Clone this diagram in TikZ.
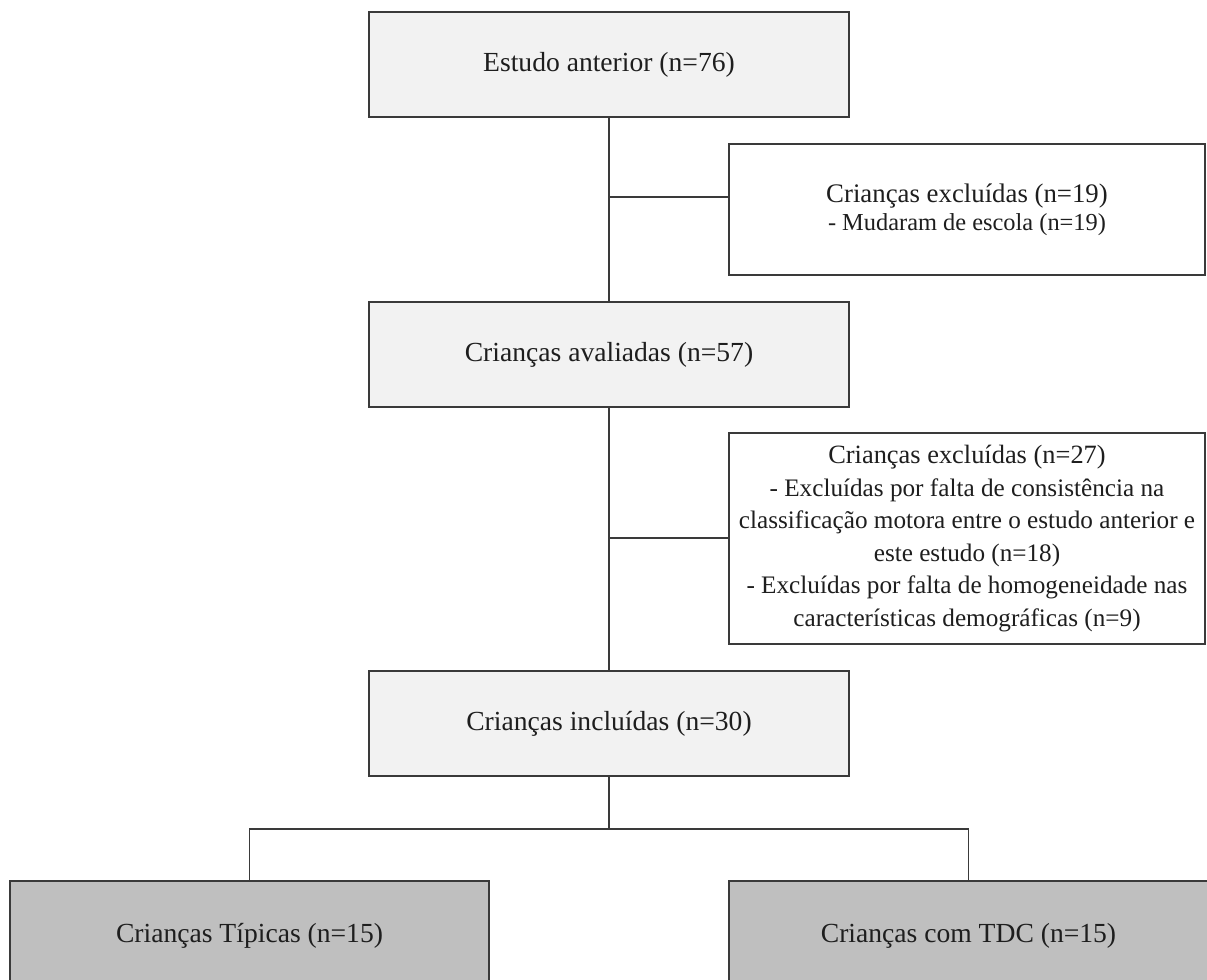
\documentclass[tikz,border=0pt]{standalone}
\usepackage{fontspec}
\setmainfont{Liberation Serif}
\definecolor{boxfill}{HTML}{F2F2F2}
\definecolor{groupfill}{HTML}{BFBFBF}
\definecolor{edge}{HTML}{3A3A3A}
\definecolor{ink}{HTML}{1E1E1E}
\begin{document}
\begin{tikzpicture}[x=0.5pt, y=-0.5pt,
		box/.style={draw=edge, line width=0.75pt, fill=boxfill, text=ink, inner sep=0pt,
			minimum width=240pt, minimum height=52.5pt, font=\fontsize{13.8}{16}\selectfont},
		exclbox/.style={box, fill=white, minimum width=238pt, align=center},
		groupbox/.style={box, fill=groupfill, minimum width=239.5pt, minimum height=54.5pt},
		link/.style={draw=edge, line width=0.6pt}]
	\clip (0,0) rectangle (1207,980);
	\fill[white] (0,0) rectangle (1207,980);
	% Boxes
	\node[box] (prev) at (609,64.5) {Estudo anterior (n=76)};
	\node[exclbox, minimum height=65.5pt, font=\fontsize{12.2}{14}\selectfont] (excl1) at (967,209.5)
		{{\fontsize{13.4}{14}\selectfont Crianças excluídas (n=19)}\\- Mudaram de escola (n=19)};
	\node[box] (aval) at (609,354.5) {Crianças avaliadas (n=57)};
	\node[exclbox, minimum height=105.5pt, font=\fontsize{12.6}{16.3}\selectfont] (excl2) at (967,538.5)
		{{\fontsize{13.2}{16.3}\selectfont Crianças excluídas (n=27)}\\
		- Excluídas por falta de consistência na\\
		classificação motora entre o estudo anterior e\\
		este estudo (n=18)\\
		- Excluídas por falta de homogeneidade nas\\
		características demográficas (n=9)};
	\node[box] (incl) at (609,723.5) {Crianças incluídas (n=30)};
	\node[groupbox] (tipicas) at (249.5,935.5) {Crianças Típicas (n=15)};
	\node[groupbox] (tdc) at (968.5,935.5) {Crianças com TDC (n=15)};
	% Connectors
	\draw[link] (prev.south) -- (aval.north);
	\draw[link] (aval.south) -- (incl.north);
	\foreach \y/\e [count=\i] in {197/excl1, 538/excl2}{
		\coordinate (j\i) at (609,\y);
		\draw[link] (j\i) -- (j\i -| \e.west);
	}
	\coordinate (split) at (609,829);
	\draw[link] (incl.south) -- (split);
	\draw[link] (tipicas.north) |- (split) -| (tdc.north);
\end{tikzpicture}
\end{document}
